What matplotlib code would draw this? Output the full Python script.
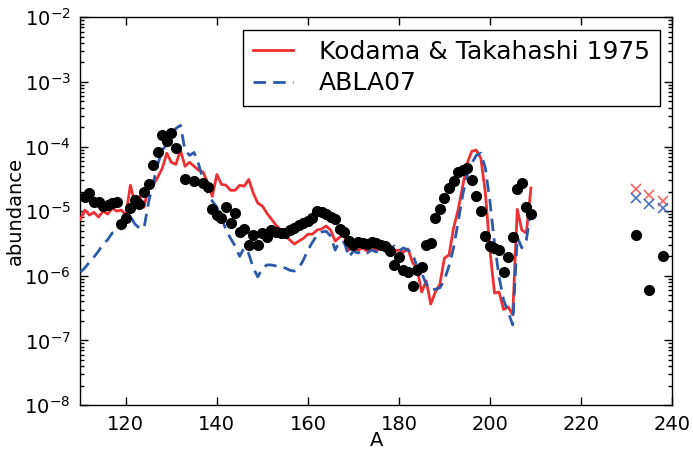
import numpy as np
import matplotlib
matplotlib.use("Agg")
import matplotlib.pyplot as plt
from matplotlib.ticker import FixedLocator, NullFormatter, LogFormatterSciNotation

# Measured solar r-process abundances
obs_A = [111, 112, 113, 114, 115, 116, 117, 118, 119, 120,
         121, 122, 123, 124, 125, 126, 127, 128, 129, 130,
         131, 133, 135, 137, 138, 139, 140, 141, 142, 143,
         144, 145, 146, 147, 148, 149, 150, 151, 152, 153,
         154, 155, 156, 157, 158, 159, 160, 161, 162, 163,
         164, 165, 166, 167, 168, 169, 170, 171, 172, 173,
         174, 175, 176, 177, 178, 179, 180, 181, 182, 183,
         184, 185, 186, 187, 188, 189, 190, 191, 192, 193,
         194, 195, 196, 197, 198, 199, 200, 201, 202, 203,
         204, 205, 206, 207, 208, 209, 232, 235, 238]
obs_Y = [1.65e-5, 1.9e-5, 1.38e-5, 1.38e-5, 1.2e-5, 1.24e-5, 1.33e-5, 1.38e-5, 6.3e-6, 7.8e-6,
         1.11e-5, 1.48e-5, 1.28e-5, 1.97e-5, 2.6e-5, 5.1e-5, 8.1e-5, 1.49e-4, 1.21e-4, 1.6e-4,
         9.4e-5, 3.1e-5, 2.9e-5, 2.7e-5, 2.35e-5, 1.07e-5, 8.7e-6, 7.8e-6, 1.15e-5, 6.5e-6,
         9.3e-6, 4.75e-6, 5.3e-6, 3.0e-6, 4.25e-6, 3.0e-6, 4.6e-6, 3.97e-6, 5.1e-6, 4.75e-6,
         4.6e-6, 4.6e-6, 5.1e-6, 5.45e-6, 6.1e-6, 6.5e-6, 7.0e-6, 7.8e-6, 1.0e-5, 9.7e-6,
         9.0e-6, 8.1e-6, 7.5e-6, 5.3e-6, 4.75e-6, 3.44e-6, 3.0e-6, 3.3e-6, 3.2e-6, 3.1e-6,
         3.3e-6, 3.2e-6, 3.0e-6, 2.9e-6, 2.41e-6, 1.47e-6, 1.95e-6, 1.22e-6, 1.14e-6, 6.9e-7,
         1.22e-6, 1.37e-6, 3.0e-6, 3.2e-6, 7.8e-6, 1.07e-5, 1.59e-5, 2.27e-5, 2.9e-5, 4.0e-5,
         4.3e-5, 4.6e-5, 3.0e-5, 1.7e-5, 1.0e-5, 4.1e-6, 2.9e-6, 2.7e-6, 2.5e-6, 1.14e-6,
         1.95e-6, 3.97e-6, 2.19e-5, 2.7e-5, 1.15e-5, 9.0e-6, 4.2e-6, 6.0e-7, 2.0e-6]

# Model mass numbers
model_A = list(range(110, 210))

# Kodama & Takahashi 1975 fission yields
kt_Y = [7.5e-6, 1.04e-5, 8.7e-6, 9.6e-6, 8.1e-6, 1.0e-5, 9.0e-6, 1.11e-5, 1.0e-5, 1.04e-5,
        8.7e-6, 2.52e-5, 1.33e-5, 1.7e-5, 1.15e-5, 2.43e-5, 2.52e-5, 3.35e-5, 4.6e-5, 7.9e-5,
        5.7e-5, 5.3e-5, 8.8e-5, 4.95e-5, 5.7e-5, 4.95e-5, 4.3e-5, 4.0e-5, 2.7e-5, 1.7e-5,
        3.7e-5, 2.6e-5, 2.52e-5, 2.1e-5, 2.1e-5, 2.52e-5, 2.43e-5, 3.1e-5, 1.9e-5, 1.33e-5,
        1.2e-5, 9.3e-6, 7.5e-6, 6.1e-6, 5.1e-6, 4.1e-6, 3.6e-6, 3.1e-6, 3.44e-6, 3.8e-6,
        4.4e-6, 4.4e-6, 5.1e-6, 5.3e-6, 5.9e-6, 5.1e-6, 3.44e-6, 3.97e-6, 4.25e-6, 2.5e-6,
        2.9e-6, 2.5e-6, 2.7e-6, 2.41e-6, 2.78e-6, 2.41e-6, 2.78e-6, 2.41e-6, 3.0e-6, 2.41e-6,
        2.5e-6, 2.33e-6, 2.6e-6, 1.6e-6, 1.27e-6, 5.6e-7, 8.3e-7, 3.65e-7, 5.6e-7, 7.4e-7,
        1.88e-6, 2.09e-6, 5.45e-6, 1.04e-5, 2.43e-5, 5.5e-5, 8.45e-5, 8.8e-5, 6.6e-5, 1.9e-5,
        2.5e-6, 5.4e-7, 5.6e-7, 3.0e-7, 3.3e-7, 2.48e-7, 1.07e-5, 5.1e-6, 4.6e-6, 2.27e-5]

# ABLA07 fission yields
abla_Y = [1.14e-6, 1.32e-6, 1.63e-6, 1.95e-6, 2.41e-6, 3.1e-6, 3.6e-6, 4.6e-6, 4.75e-6, 5.45e-6,
          7.0e-6, 8.4e-6, 6.3e-6, 5.45e-6, 5.45e-6, 1.38e-5, 2.7e-5, 5.3e-5, 8.8e-5, 1.08e-4,
          1.39e-4, 1.91e-4, 2.13e-4, 8.8e-5, 7.3e-5, 8.1e-5, 5.3e-5, 3.0e-5, 1.97e-5, 1.43e-5,
          1.15e-5, 8.1e-6, 5.1e-6, 3.8e-6, 2.9e-6, 2.0e-6, 2.7e-6, 2.2e-6, 1.32e-6, 9.6e-7,
          1.32e-6, 1.47e-6, 1.47e-6, 1.42e-6, 1.37e-6, 1.32e-6, 1.22e-6, 1.18e-6, 1.32e-6, 1.75e-6,
          2.5e-6, 3.3e-6, 4.25e-6, 4.75e-6, 4.9e-6, 4.1e-6, 2.5e-6, 3.44e-6, 3.3e-6, 1.95e-6,
          2.41e-6, 2.25e-6, 2.41e-6, 2.25e-6, 2.5e-6, 2.33e-6, 2.6e-6, 2.41e-6, 2.6e-6, 2.9e-6,
          2.41e-6, 2.7e-6, 2.5e-6, 2.2e-6, 1.37e-6, 1.1e-6, 7.4e-7, 6.0e-7, 6.2e-7, 6.5e-7,
          8.6e-7, 1.42e-6, 2.7e-6, 6.7e-6, 1.77e-5, 3.6e-5, 5.5e-5, 7.3e-5, 7.9e-5, 4.6e-5,
          1.4e-5, 3.2e-6, 9.6e-7, 4.2e-7, 2.75e-7, 1.74e-7, 3.97e-6, 2.7e-6, 3.6e-6, 1.04e-5]

# Actinide abundances predicted by each model
act_A = [232, 235, 238]
act_kt = [2.2e-5, 1.75e-5, 1.46e-5]
act_abla = [1.6e-5, 1.27e-5, 1.13e-5]

x_ticks = [120, 140, 160, 180, 200, 220, 240]
y_ticks = [1e-8, 1e-7, 1e-6, 1e-5, 1e-4, 1e-3, 1e-2]

RED = "#ee2f33"
BLUE = "#2c5aa8"

plt.rcParams["font.family"] = ["DejaVu Sans"]

fig = plt.figure(figsize=(6.93, 4.57), dpi=100)
ax = fig.add_axes([0.1159, 0.1138, 0.8538, 0.8483])

ax.plot(model_A, kt_Y, color=RED, lw=2.0, label="Kodama & Takahashi 1975", zorder=3)
ax.plot(model_A, abla_Y, color=BLUE, lw=2.0, ls=(0, (4.5, 2.6)), label="ABLA07", zorder=3)
ax.plot(obs_A, obs_Y, "o", color="black", ms=7, mec="black", zorder=4)
ax.plot(act_A, act_kt, "x", color="#f06464", ms=7, mew=1.2, zorder=4)
ax.plot(act_A, act_abla, "x", color="#4a6fc0", ms=7, mew=1.2, zorder=4)

ax.set_yscale("log")
ax.set_xlim(110, 240)
ax.set_ylim(1e-8, 1e-2)
ax.xaxis.set_major_locator(FixedLocator(x_ticks))
ax.yaxis.set_major_locator(FixedLocator(y_ticks))
ax.yaxis.set_major_formatter(LogFormatterSciNotation())
minor_y = [m * d for d in y_ticks[:-1] for m in range(2, 10)]
ax.yaxis.set_minor_locator(FixedLocator(minor_y))
ax.yaxis.set_minor_formatter(NullFormatter())

ax.tick_params(which="both", direction="in", top=True, right=True, labelsize=14, width=1)
ax.tick_params(which="major", length=6, pad=7)
ax.tick_params(which="minor", length=3)
for s in ax.spines.values():
    s.set_linewidth(1.0)

ax.set_xlabel("A", fontsize=14)
ax.set_ylabel("abundance", fontsize=14)
ax.xaxis.set_label_coords(0.5, -0.066)
ax.yaxis.set_label_coords(-0.093, 0.5)

leg = ax.legend(loc="upper right", bbox_to_anchor=(660 / 693, 1 - 30 / 457),
                bbox_transform=fig.transFigure, borderaxespad=0,
                fontsize=18, fancybox=False, framealpha=1, edgecolor="black",
                handlelength=1.6, handletextpad=1.05, borderpad=0.4, labelspacing=0.3)
leg.get_frame().set_linewidth(1.0)

fig.savefig("out.png", dpi=100, facecolor="white")
